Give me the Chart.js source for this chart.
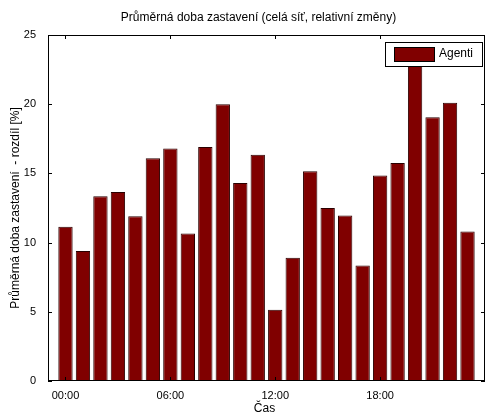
<!DOCTYPE html>
<html>
<head>
<meta charset="utf-8">
<script src="https://cdn.jsdelivr.net/npm/chart.js@4"></script>
<style>
  html, body { margin: 0; padding: 0; background: #fff; }
  #wrap { width: 485px; height: 417px; }
</style>
</head>
<body>
<div id="wrap"><canvas id="chart" width="485" height="417"></canvas></div>
<script>
const hours = [0,1,2,3,4,5,6,7,8,9,10,11,12,13,14,15,16,17,18,19,20,21,22,23];
const agenti = [11.15,9.4,13.35,13.65,11.9,16.1,16.8,10.65,16.9,20.0,14.3,16.35,
                5.15,8.9,15.15,12.5,11.95,8.35,14.85,15.75,22.8,19.05,20.1,10.8];
const xTicks = [0, 6, 12, 18];
const xTickLabels = ["00:00", "06:00", "12:00", "18:00"];
const yTicks = [0, 5, 10, 15, 20, 25];

const FONT = "'Liberation Sans', Arial, sans-serif";

// frame, inward ticks, titles and legend (matlab look)
const decor = {
  id: "decor",
  afterDatasetsDraw(chart) {
    const { ctx, chartArea: a, scales } = chart;
    ctx.save();
    ctx.strokeStyle = "#000";
    ctx.lineWidth = 1;
    ctx.strokeRect(a.left + 0.5, a.top + 0.5, a.right - a.left - 1, a.bottom - a.top - 1);
    ctx.beginPath();
    xTicks.forEach(v => {
      const x = Math.round(scales.x.getPixelForValue(v)) + 0.5;
      ctx.moveTo(x, a.bottom); ctx.lineTo(x, a.bottom - 4);
      ctx.moveTo(x, a.top); ctx.lineTo(x, a.top + 4);
    });
    yTicks.forEach(v => {
      const y = Math.round(scales.y.getPixelForValue(v)) + 0.5;
      ctx.moveTo(a.left, y); ctx.lineTo(a.left + 4, y);
      ctx.moveTo(a.right, y); ctx.lineTo(a.right - 4, y);
    });
    ctx.stroke();

    ctx.fillStyle = "#000";
    ctx.font = "12px " + FONT;
    ctx.textAlign = "center";
    ctx.textBaseline = "middle";
    ctx.fillText("Průměrná doba zastavení (celá síť, relativní změny)", (a.left + a.right) / 2 - 8, 18);
    ctx.fillText("Čas", (a.left + a.right) / 2 - 2, 409);
    ctx.save();
    ctx.translate(16, (a.top + a.bottom) / 2);
    ctx.rotate(-Math.PI / 2);
    ctx.fillText("Průměrná doba zastavení  - rozdíl [%]", 0, 0);
    ctx.restore();

    // legend
    const lx = 385, ly = 42, lw = 97, lh = 24;
    ctx.fillStyle = "#fff";
    ctx.fillRect(lx, ly, lw, lh);
    ctx.strokeRect(lx + 0.5, ly + 0.5, lw, lh);
    ctx.fillStyle = "#800000";
    ctx.fillRect(lx + 9, ly + 5, 40, 14);
    ctx.strokeRect(lx + 9.5, ly + 5.5, 40, 14);
    ctx.fillStyle = "#000";
    ctx.textAlign = "left";
    ctx.font = "12px " + FONT;
    ctx.fillText("Agenti", lx + 54, ly + 12);
    ctx.restore();
  }
};

new Chart(document.getElementById("chart"), {
  type: "bar",
  data: {
    datasets: [{
      label: "Agenti",
      data: hours.map((h, i) => ({ x: h, y: agenti[i] })),
      backgroundColor: "#800000",
      borderColor: "#2a0000",
      borderWidth: 1,
      barPercentage: 0.82,
      categoryPercentage: 1
    }]
  },
  options: {
    responsive: false,
    animation: false,
    layout: { padding: { top: 35, right: 0, left: 0, bottom: 0 } },
    plugins: { legend: { display: false }, tooltip: { enabled: false } },
    scales: {
      x: {
        type: "linear", min: -1, max: 24, offset: false,
        afterFit(s) { s.height = 36; },
        afterBuildTicks(s) { s.ticks = xTicks.map(v => ({ value: v })); },
        grid: { display: false, offset: false },
        border: { display: false },
        ticks: {
          color: "#000", font: { size: 11, family: FONT }, padding: 0,
          autoSkip: false, maxRotation: 0,
          callback: v => xTickLabels[xTicks.indexOf(v)]
        }
      },
      y: {
        min: 0, max: 25,
        afterFit(s) { s.width = 48; },
        afterBuildTicks(s) { s.ticks = yTicks.map(v => ({ value: v })); },
        grid: { display: false },
        border: { display: false },
        ticks: { color: "#000", font: { size: 11, family: FONT }, padding: 4 }
      }
    }
  },
  plugins: [decor]
});
</script>
</body>
</html>
